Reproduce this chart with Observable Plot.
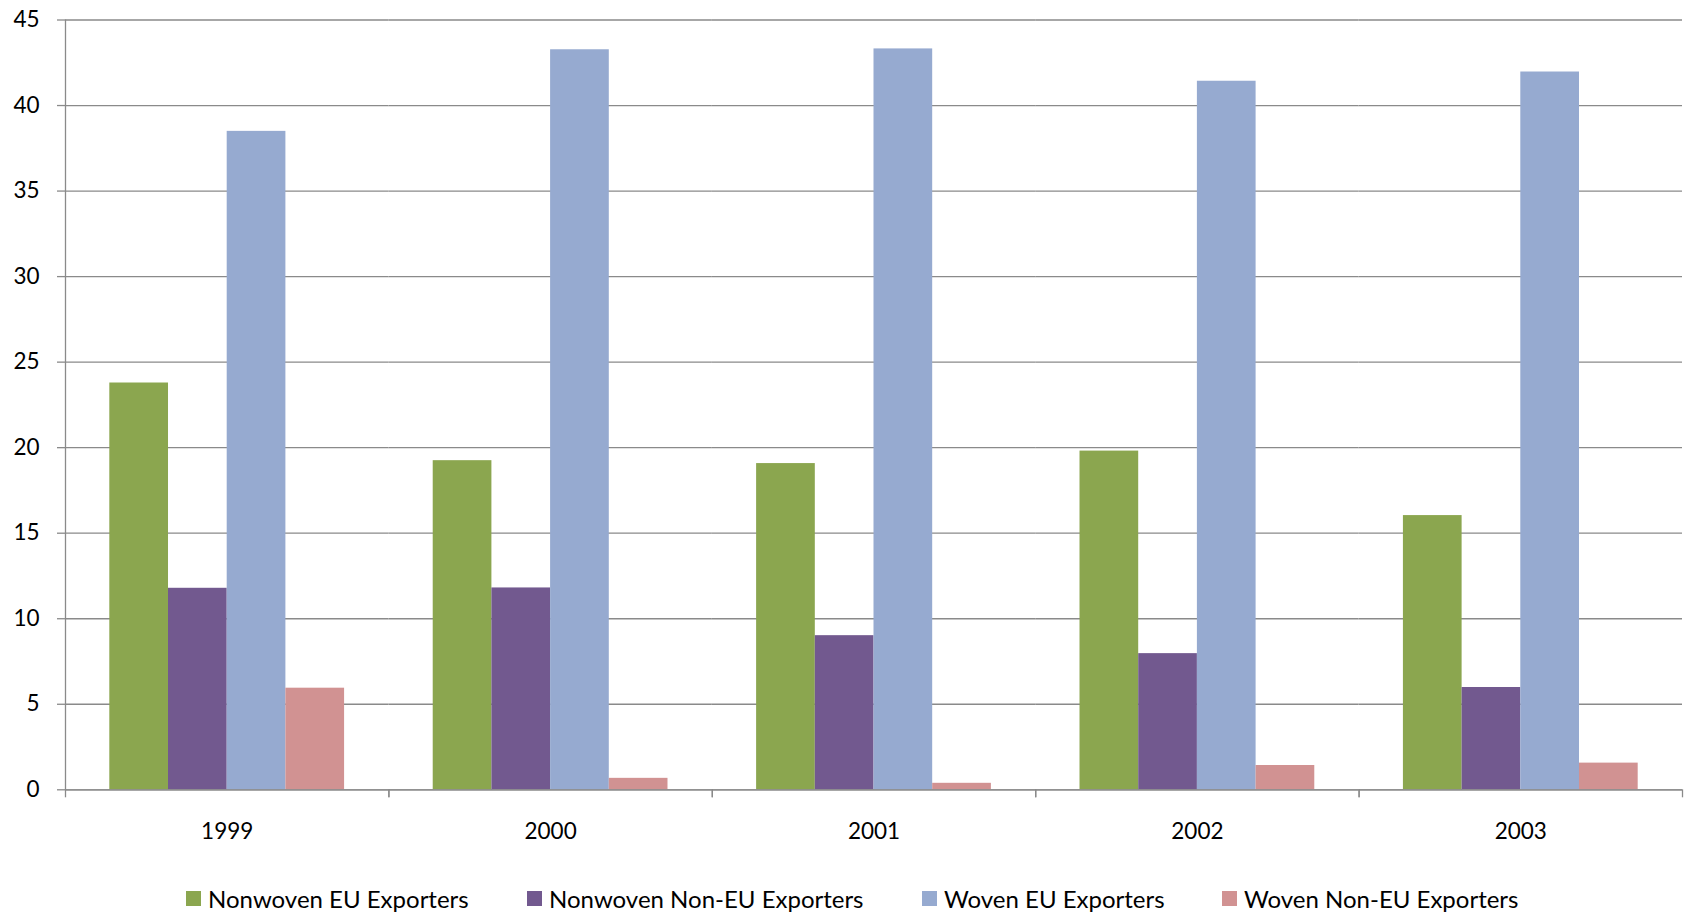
<!DOCTYPE html>
<html><head><meta charset="utf-8">
<script src="https://cdn.jsdelivr.net/npm/d3@7"></script>
<script src="https://cdn.jsdelivr.net/npm/@observablehq/plot@0.6"></script>
<style>
body{margin:0;background:#fff;font-family:Lato, "Open Sans", sans-serif;}
#wrap{position:relative;width:1685px;height:915px;overflow:hidden;}
.legend{position:absolute;top:884px;left:0;width:1685px;height:28px;font-size:24px;color:#000;}
.item{position:absolute;top:0;height:28px;display:flex;align-items:center;white-space:nowrap;}
.sw{width:15px;height:15px;margin-right:7px;flex:none;}
</style></head><body><div id="wrap"></div>
<script>
const years = ["1999", "2000", "2001", "2002", "2003"];
const series = ["Nonwoven EU Exporters", "Nonwoven Non-EU Exporters", "Woven EU Exporters", "Woven Non-EU Exporters"];
const nonwovenEU    = [23.78, 19.24, 19.07, 19.80, 16.03];
const nonwovenNonEU = [11.78, 11.80, 9.01, 7.96, 5.98];
const wovenEU       = [38.49, 43.26, 43.31, 41.42, 41.96];
const wovenNonEU    = [5.94, 0.67, 0.38, 1.42, 1.56];
const yTicks = [0, 5, 10, 15, 20, 25, 30, 35, 40, 45];
const colors = ["#8BA64F", "#72598F", "#96AAD0", "#D19292"];
const legendLeft = [186, 527, 922, 1222];

const seriesValues = [nonwovenEU, nonwovenNonEU, wovenEU, wovenNonEU];
const data = [];
years.forEach((yr, i) => series.forEach((s, j) => data.push({year: yr, series: s, value: seriesValues[j][i]})));

const W = 1685, H = 870, mL = 65, mR = 3, mT = 19.5, mB = 80.7;
const bw = (W - mL - mR) / years.length;
const grey = "#8a8a8a";

const chart = Plot.plot({
  width: W, height: H,
  marginLeft: mL, marginRight: mR, marginTop: mT, marginBottom: mB,
  style: {fontFamily: "Lato, 'Open Sans', sans-serif", fontSize: "22.5px", color: "#000", background: "#fff"},
  fx: {domain: years, padding: 0, label: null, round: false},
  x: {domain: series, paddingInner: 0, paddingOuter: 0.755, axis: null, round: false},
  y: {domain: [0, 45], label: null},
  color: {domain: series, range: colors},
  marks: [
    Plot.gridY(yTicks, {stroke: grey, strokeOpacity: 1, strokeWidth: 1.3}),
    Plot.axisY(yTicks, {tickSize: 8, tickPadding: 18, stroke: grey, strokeWidth: 1.3, fontSize: 22.5, fill: "#000", label: null}),
    Plot.barY(data, {fx: "year", x: "series", y: "value", fill: "series"}),
    Plot.ruleY([0], {stroke: grey, strokeWidth: 1.3}),
    Plot.ruleX([years[0]], {fx: d => d, x: null, y1: 0, y2: 45, stroke: grey, strokeWidth: 1.3, dx: -bw / 2}),
    Plot.axisFx({anchor: "bottom", tickSize: 0, tickPadding: 33, fontSize: 22.5, fill: "#000", label: null}),
    Plot.axisFx({anchor: "bottom", text: null, tickSize: 8, stroke: grey, strokeWidth: 1.3, dx: -bw / 2, label: null}),
    Plot.axisFx([years[years.length - 1]], {anchor: "bottom", text: null, tickSize: 8, stroke: grey, strokeWidth: 1.3, dx: bw / 2, label: null})
  ]
});
const wrap = document.getElementById("wrap");
wrap.appendChild(chart);

const legend = document.createElement("div");
legend.className = "legend";
series.forEach((s, i) => {
  const it = document.createElement("div");
  it.className = "item";
  it.style.left = legendLeft[i] + "px";
  const sw = document.createElement("span");
  sw.className = "sw";
  sw.style.background = colors[i];
  const tx = document.createElement("span");
  tx.textContent = s;
  it.appendChild(sw); it.appendChild(tx);
  legend.appendChild(it);
});
wrap.appendChild(legend);
</script></body></html>
